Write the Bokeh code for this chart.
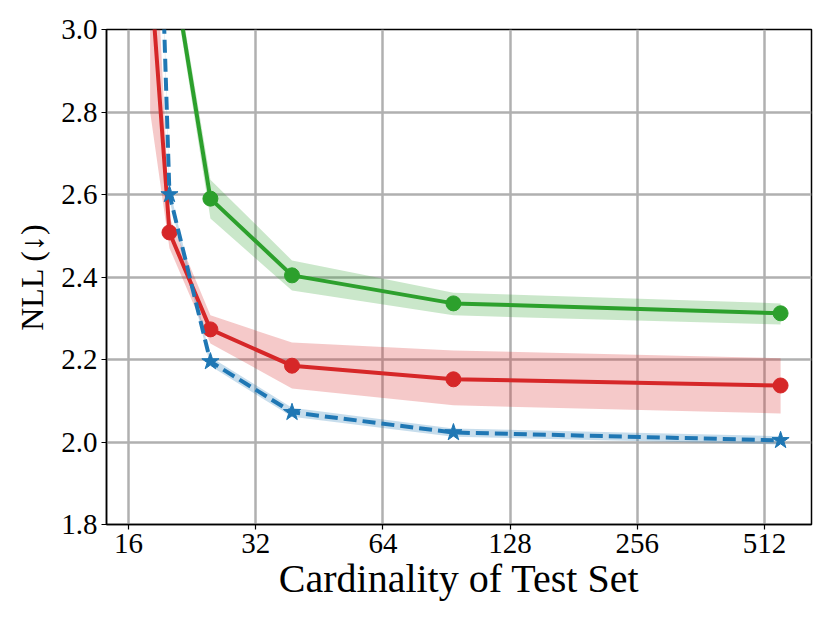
from bokeh.plotting import figure
from bokeh.models import Range1d, FixedTicker
from bokeh.embed import file_html
from bokeh.resources import INLINE

# ---- data ----
green_x = [20, 25, 39, 94, 559]
green_y = [3.20, 2.590, 2.404, 2.336, 2.312]
green_lo = [3.17, 2.542, 2.367, 2.307, 2.285]
green_hi = [3.23, 2.636, 2.440, 2.362, 2.336]

red_x = [18, 20, 25, 39, 94, 559]
red_y = [3.15, 2.508, 2.273, 2.185, 2.152, 2.137]
red_lo = [2.80, 2.470, 2.239, 2.130, 2.089, 2.069]
red_hi = [3.50, 2.545, 2.307, 2.241, 2.222, 2.203]

blue_x = [18, 20, 25, 39, 94, 559]
blue_y = [4.08, 2.600, 2.195, 2.072, 2.023, 2.004]
blue_lo = [4.06, 2.586, 2.184, 2.061, 2.013, 1.994]
blue_hi = [4.10, 2.614, 2.206, 2.083, 2.033, 2.014]

x_ticks = [16, 32, 64, 128, 256, 512]
y_ticks = [1.8, 2.0, 2.2, 2.4, 2.6, 2.8, 3.0]

GREEN = "#2ca02c"
RED = "#d62728"
BLUE = "#1f77b4"
FONT = "Liberation Serif"

p = figure(width=822, height=615, x_axis_type="log",
           x_range=Range1d(14.19, 661.6), y_range=Range1d(1.8, 3.0),
           output_backend="svg", toolbar_location=None,
           min_border_left=106, min_border_right=11,
           min_border_top=29, min_border_bottom=91)

# bands
p.varea(x=green_x, y1=green_lo, y2=green_hi, fill_color=GREEN, fill_alpha=0.25)
p.varea(x=red_x, y1=red_lo, y2=red_hi, fill_color=RED, fill_alpha=0.25)
p.varea(x=blue_x, y1=blue_lo, y2=blue_hi, fill_color=BLUE, fill_alpha=0.25)

# lines + markers
p.line(green_x, green_y, line_color=GREEN, line_width=4)
p.scatter(green_x, green_y, marker="circle", size=15, fill_color=GREEN, line_color=GREEN)

p.line(red_x, red_y, line_color=RED, line_width=4)
p.scatter(red_x, red_y, marker="circle", size=15, fill_color=RED, line_color=RED)

p.line(blue_x, blue_y, line_color=BLUE, line_width=4, line_dash="13 6")
p.scatter(blue_x, blue_y, marker="star", size=18, fill_color=BLUE, line_color=BLUE)

# axes
p.xaxis.ticker = FixedTicker(ticks=x_ticks)
p.xaxis.major_label_overrides = {t: str(t) for t in x_ticks}
p.yaxis.ticker = FixedTicker(ticks=y_ticks)
p.yaxis.major_label_overrides = {t: f"{t:.1f}" for t in y_ticks}

for ax in (p.xaxis[0], p.yaxis[0]):
    ax.minor_tick_line_color = None
    ax.major_tick_out = 5
    ax.major_tick_in = 0
    ax.major_tick_line_color = "black"
    ax.major_tick_line_width = 1.2
    ax.axis_line_color = "black"
    ax.axis_line_width = 1.5
    ax.major_label_text_font = FONT
    ax.major_label_text_font_size = "29px"
    ax.major_label_text_color = "black"
    ax.axis_label_text_font = FONT
    ax.axis_label_text_font_style = "normal"
    ax.axis_label_text_color = "black"

p.xaxis.axis_label = "Cardinality of Test Set"
p.xaxis.axis_label_text_font_size = "40px"
p.xaxis.axis_label_standoff = 0
p.xaxis.major_label_standoff = 4
p.yaxis.axis_label = "NLL (\u2193)"
p.yaxis.axis_label_text_font_size = "32px"
p.yaxis.axis_label_standoff = 8
p.yaxis.major_label_standoff = 4

p.xgrid.grid_line_color = "#b0b0b0"
p.ygrid.grid_line_color = "#b0b0b0"
p.xgrid.grid_line_width = 2.5
p.ygrid.grid_line_width = 2.5

p.outline_line_color = "black"
p.outline_line_width = 1.5
p.outline_line_alpha = 1.0
p.background_fill_color = "white"
p.border_fill_color = "white"

open("out.html", "w").write(file_html(p, INLINE))
